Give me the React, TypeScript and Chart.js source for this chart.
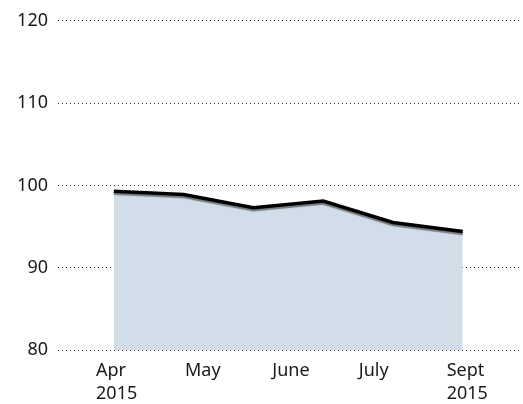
import React, { useEffect, useRef } from "react";
import { Chart, registerables } from "chart.js";

Chart.register(...registerables);

const months = ["Apr", "May", "June", "July", "Aug", "Sept"];
const values = [99.3, 98.9, 97.3, 98.1, 95.5, 94.4];
// label anchor positions (left edges of the labels) in month units
const tickPositions = [-0.255, 1.02, 2.27, 3.51, 4.77];
const tickLabels: (string | string[])[] = [["Apr", "2015"], "May", "June", "July", ["Sept", "2015"]];
const yTicks = [80, 90, 100, 110, 120];

const FONT = "'Noto Sans', sans-serif";

export default function App() {
  const ref = useRef<HTMLCanvasElement | null>(null);

  useEffect(() => {
    document.body.style.margin = "0";
    const ctx = ref.current!.getContext("2d")!;
    const points = values.map((v, i) => ({ x: i, y: v }));

    const shadowPlugin = {
      id: "lineShadow",
      beforeDatasetDraw(chart: any, args: any) {
        if (args.index === 0) {
          const c = chart.ctx;
          c.save();
          c.shadowColor = "rgba(80,80,80,0.7)";
          c.shadowOffsetX = 0;
          c.shadowOffsetY = 2;
          c.shadowBlur = 1;
        }
      },
      afterDatasetDraw(chart: any, args: any) {
        if (args.index === 0) chart.ctx.restore();
      },
    };

    const chart = new Chart(ctx, {
      type: "line",
      data: {
        datasets: [
          {
            label: "line",
            data: points,
            borderWidth: 3.5,
            borderColor: "#000000",
            fill: false,
            pointRadius: 0,
            tension: 0,
            order: 1,
          },
          {
            label: "area",
            data: points,
            borderWidth: 0,
            borderColor: "rgba(0,0,0,0)",
            backgroundColor: "#d1dee9",
            fill: "start",
            pointRadius: 0,
            tension: 0,
            order: 2,
          },
        ],
      },
      options: {
        animation: false,
        responsive: false,
        layout: { padding: { top: 18, right: 3, left: 0, bottom: 0 } },
        plugins: {
          legend: { display: false },
          tooltip: { enabled: false },
        },
        scales: {
          x: {
            type: "linear",
            min: -0.8,
            max: 5.82,
            grid: { display: false },
            border: { display: false },
            afterBuildTicks: (scale: any) => {
              scale.ticks = tickPositions.map((v) => ({ value: v }));
            },
            afterFit: (scale: any) => {
              scale.height = 54;
            },
            ticks: {
              autoSkip: false,
              maxRotation: 0,
              align: "start",
              padding: 1,
              color: "#1a1a1a",
              font: { family: FONT, size: 18, lineHeight: 1.3 },
              callback: (_v: any, i: number) => tickLabels[i],
            },
          },
          y: {
            min: 80,
            max: 120,
            afterBuildTicks: (scale: any) => {
              scale.ticks = yTicks.map((v) => ({ value: v }));
            },
            afterFit: (scale: any) => {
              scale.width = 58;
            },
            border: { display: false, dash: [1, 3] },
            grid: {
              color: "#333333",
              lineWidth: 1,
              drawTicks: false,
            },
            ticks: {
              padding: 10,
              color: "#1a1a1a",
              font: { family: FONT, size: 18 },
            },
          },
        },
      },
      plugins: [shadowPlugin],
    } as any);

    return () => chart.destroy();
  }, []);

  return (
    <div style={{ position: "fixed", left: 0, top: 0, width: 523, height: 404 }}>
      <canvas ref={ref} width={523} height={404} style={{ width: 523, height: 404 }} />
    </div>
  );
}
